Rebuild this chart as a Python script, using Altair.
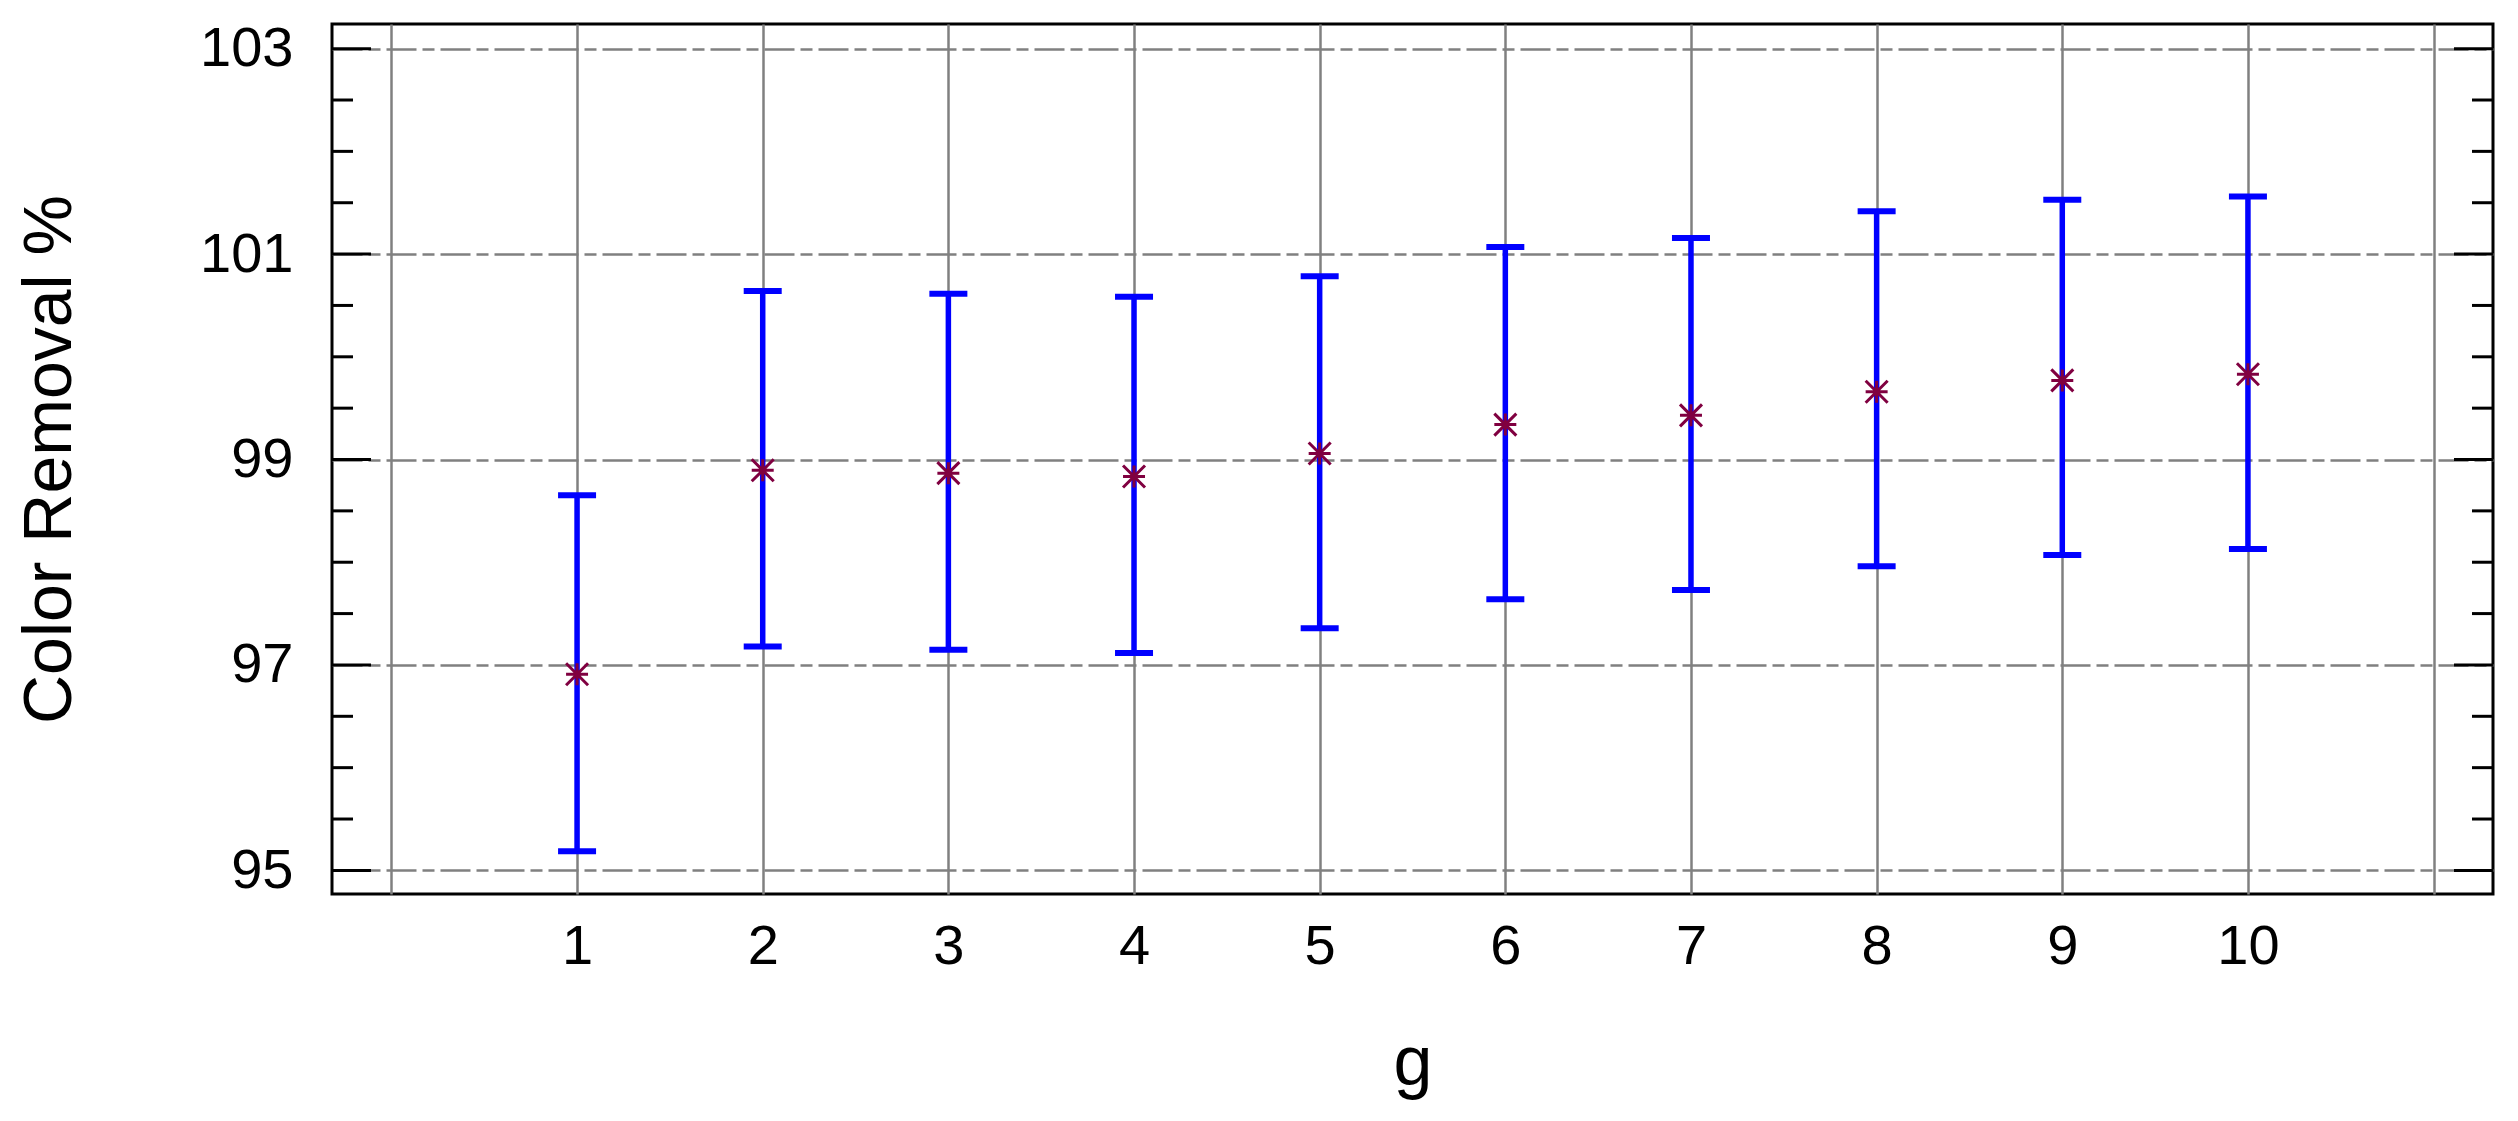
import altair as alt
import pandas as pd

# ---- data ----
groups = [1, 2, 3, 4, 5, 6, 7, 8, 9, 10]
means = [96.91, 98.895, 98.867, 98.835, 99.058, 99.34, 99.43, 99.66, 99.77, 99.83]
lower = [95.185, 97.18, 97.149, 97.117, 97.357, 97.64, 97.73, 97.96, 98.07, 98.13]
upper = [98.653, 100.64, 100.613, 100.585, 100.785, 101.07, 101.157, 101.417, 101.53, 101.56]
major_ticks = [95, 97, 99, 101, 103]
minor_ticks = [95.5, 96, 96.5, 97.5, 98, 98.5, 99.5, 100, 100.5, 101.5, 102, 102.5]
x_grid = [0, 1, 2, 3, 4, 5, 6, 7, 8, 9, 10, 11]

W, H = 2161, 870
FONT = "Liberation Sans"

df = pd.DataFrame({"g": groups, "mean": means, "lo": lower, "hi": upper})
maj = pd.DataFrame({"v": major_ticks})
mnr = pd.DataFrame({"v": minor_ticks})

xs = alt.Scale(domain=[-0.32, 11.32], nice=False, zero=False)
ys = alt.Scale(domain=[94.77, 103.24], nice=False, zero=False)

xaxis = alt.Axis(
    values=x_grid, title="g",
    labelExpr="datum.value >= 1 && datum.value <= 10 ? datum.label : ''",
    grid=True, gridColor="#808080", gridWidth=2.5,
    ticks=False, tickSize=0, domain=False,
    labelFontSize=56, labelFont=FONT, labelColor="black", labelPadding=25,
    labelFlush=False, labelOverlap=False,
    titleFontSize=70, titleFont=FONT, titleFontWeight="normal", titleColor="black",
    titleX=W / 2, titleY=190, titleBaseline="alphabetic", titleAlign="center",
)
yaxis = alt.Axis(
    values=major_ticks, title="Color Removal %",
    grid=True, gridColor="#808080", gridWidth=2.5, gridDash=[30, 6, 12, 6],
    ticks=False, tickSize=0, domain=False,
    labelFontSize=56, labelFont=FONT, labelColor="black", labelPadding=39,
    labelFlush=False, labelOverlap=False,
    titleFontSize=68, titleFont=FONT, titleFontWeight="normal", titleColor="black",
    titleAngle=270, titleX=-262, titleY=H / 2, titleBaseline="alphabetic", titleAlign="center",
)

base = alt.Chart(df)

bars = base.mark_rule(color="#0000ff", strokeWidth=5.5).encode(
    x=alt.X("g:Q", scale=xs, axis=xaxis),
    y=alt.Y("lo:Q", scale=ys, axis=yaxis),
    y2="hi:Q",
)
cap_hi = base.mark_tick(orient="horizontal", color="#0000ff", size=38, thickness=6, opacity=1).encode(
    x=alt.X("g:Q", scale=xs, axis=xaxis),
    y=alt.Y("hi:Q", scale=ys, axis=yaxis),
)
cap_lo = base.mark_tick(orient="horizontal", color="#0000ff", size=38, thickness=6, opacity=1).encode(
    x=alt.X("g:Q", scale=xs, axis=xaxis),
    y=alt.Y("lo:Q", scale=ys, axis=yaxis),
)
star = base.mark_point(
    shape="M-1,-1L1,1M-1,1L1,-1M-1,0L1,0M0,-1L0,1",
    filled=False, stroke="#800040", strokeWidth=3, size=484, opacity=1,
).encode(
    x=alt.X("g:Q", scale=xs, axis=xaxis),
    y=alt.Y("mean:Q", scale=ys, axis=yaxis),
)

def tick_layer(data, x0, x1):
    return alt.Chart(data).mark_rule(color="black", strokeWidth=3).encode(
        y=alt.Y("v:Q", scale=ys, axis=yaxis),
        x=alt.value(x0), x2=alt.value(x1),
    )

ticks = [
    tick_layer(maj, 0, 39), tick_layer(maj, W, W - 39),
    tick_layer(mnr, 0, 21), tick_layer(mnr, W, W - 21),
]

chart = alt.layer(bars, cap_hi, cap_lo, star, *ticks).properties(
    width=W, height=H,
    padding={"left": 324, "top": 16, "right": 10, "bottom": 215},
    autosize=alt.AutoSizeParams(type="none"),
    background="white",
).configure_view(stroke="black", strokeWidth=3)

chart.save("out.html", embed_options={"renderer": "svg", "actions": False})
